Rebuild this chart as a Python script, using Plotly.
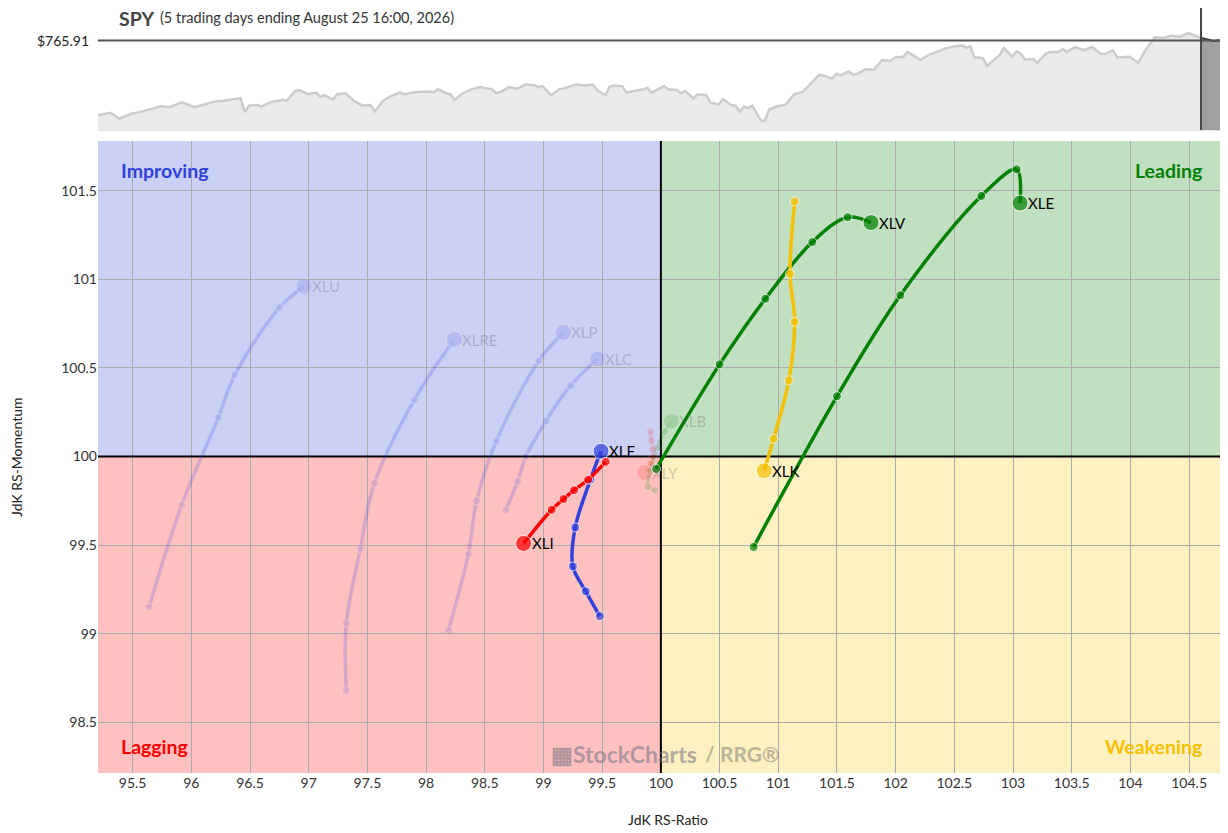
import plotly.graph_objects as go

# ---------------- SPY price strip (day index, price) ----------------
spy_days = [0,3,5,8,10,13,15,17,20,23,25,28,30,33,34,35,36,38,39,41,44,45,47,48,50,52,53,54,56,57,59,61,63,65,66,68,70,72,73,76,79,80,81,83,84,85,87,89,
            91,94,95,96,98,100,102,104,105,106,108,110,111,114,116,118,119,121,122,123,125,126,128,130,131,132,135,136,138,139,140,142,143,145,146,148,149,151,152,153,154,155,156,158,159,160,162,163,164,166,168,170,172,173,175,176,177,179,
            180,181,183,185,187,189,190,192,193,195,196,198,199,201,202,204,206,207,208,209,210,211,212,214,215,216,217,218,219,220,221,223,224,226,227,229,230,231,233,235,237,239,240,242,243,245,246,248,249,250,252,254,256,258,260,261,263]
spy_prices = [673.9,677.1,669.9,675.9,677.9,681.9,685.1,683.9,689.9,683.9,687.1,691.1,691.9,693.9,695.1,677.9,685.9,686.7,684.7,689.9,693.1,691.9,703.9,705.1,699.9,701.9,697.1,698.7,693.1,699.9,701.1,691.9,685.9,686.7,678.7,691.9,697.9,701.9,699.9,702.7,703.1,701.9,705.9,701.1,699.9,693.1,701.1,705.9,
              708.7,705.9,701.1,702.7,708.7,706.7,711.9,711.1,708.7,709.9,698.7,705.9,707.1,711.9,710.7,711.9,705.1,698.7,709.1,710.7,709.9,701.9,703.9,705.9,707.9,701.9,709.9,705.9,705.1,701.1,703.9,694.7,699.9,698.7,689.9,687.1,693.9,686.7,685.9,678.7,684.7,683.1,685.9,667.9,667.1,681.1,685.1,685.9,687.1,699.9,702.7,713.1,723.9,722.7,719.1,725.1,723.1,727.9,
              723.9,724.7,730.7,729.9,741.9,740.7,745.1,745.9,751.9,745.9,741.9,747.9,749.9,753.9,755.9,758.7,759.9,757.1,758.7,744.7,745.1,743.9,734.7,743.9,747.9,756.7,751.1,745.9,752.7,749.9,742.7,743.1,738.7,749.9,751.9,751.9,755.1,751.9,757.9,753.9,757.9,749.9,749.1,753.9,745.1,745.1,745.9,738.7,747.9,755.9,769.9,769.1,771.9,770.7,775.1,772.7,769.1]
last5_days = [263,264,265,266,267,268]
last5_prices = [769.1,767.9,766.7,765.3,766.1,765.91]
last_price = 765.91

# ---------------- RRG tails (RS-Ratio, RS-Momentum), oldest -> newest ----------------
xle_x = [100.79,101.50,102.04,102.73,103.03,103.06]
xle_y = [99.49,100.34,100.91,101.47,101.62,101.43]
xlv_x = [99.96,100.50,100.89,101.29,101.59,101.79]
xlv_y = [99.93,100.52,100.89,101.21,101.35,101.32]
xlk_x = [101.14,101.10,101.14,101.09,100.96,100.88]
xlk_y = [101.44,101.03,100.76,100.43,100.10,99.92]
xlf_x = [99.48,99.36,99.25,99.27,99.40,99.49]
xlf_y = [99.10,99.24,99.38,99.60,99.87,100.03]
xli_x = [99.53,99.38,99.26,99.17,99.07,98.83]
xli_y = [99.97,99.87,99.81,99.76,99.70,99.51]
xlu_x = [95.64,95.92,96.23,96.37,96.75,96.96]
xlu_y = [99.15,99.73,100.22,100.46,100.84,100.96]
xlre_x = [97.32,97.32,97.44,97.56,97.90,98.24]
xlre_y = [98.68,99.06,99.48,99.85,100.32,100.66]
xlp_x = [98.19,98.36,98.43,98.60,98.96,99.17]
xlp_y = [99.02,99.45,99.75,100.09,100.54,100.70]
xlc_x = [98.68,98.78,98.85,99.02,99.23,99.46]
xlc_y = [99.70,99.86,100.00,100.20,100.40,100.55]
xly_x = [99.91,99.92,99.93,99.93,99.91,99.86]
xly_y = [100.14,100.09,100.04,100.00,99.96,99.91]
xlb_x = [99.95,99.89,99.91,99.97,100.03,100.09]
xlb_y = [99.81,99.83,99.92,100.05,100.14,100.20]

x_ticks = [95.5,96,96.5,97,97.5,98,98.5,99,99.5,100,100.5,101,101.5,102,102.5,103,103.5,104,104.5]
y_ticks = [98.5,99,99.5,100,100.5,101,101.5]

GREEN = "rgb(0,128,0)"
GOLD = "rgb(245,192,0)"
BLUE = "rgb(50,65,220)"
RED = "rgb(255,0,0)"
FONT = "Lato"

# the page body has an 8px margin, so the figure is offset by 8px
OFF = 8
W, H = 1220, 825
def px(xp):
    return (xp - OFF) / W
def py(yp):
    return 1 - (yp - OFF) / H

XR = [95.205, 104.78]
YR = [98.215, 101.78]

fig = go.Figure()

# SPY strip
fig.add_trace(go.Scatter(x=spy_days, y=spy_prices, xaxis="x2", yaxis="y2", mode="lines",
                         line=dict(color="rgb(204,204,204)", width=2.5), fill="tozeroy",
                         fillcolor="rgb(235,235,235)", hoverinfo="skip", showlegend=False))
fig.add_trace(go.Scatter(x=last5_days, y=last5_prices, xaxis="x2", yaxis="y2", mode="lines",
                         line=dict(color="rgb(50,50,50)", width=2), fill="tozeroy",
                         fillcolor="rgb(160,160,160)", hoverinfo="skip", showlegend=False))

faded = [("XLU", xlu_x, xlu_y, BLUE), ("XLRE", xlre_x, xlre_y, BLUE), ("XLP", xlp_x, xlp_y, BLUE),
         ("XLC", xlc_x, xlc_y, BLUE), ("XLB", xlb_x, xlb_y, GREEN), ("XLY", xly_x, xly_y, RED)]
solid = [("XLE", xle_x, xle_y, GREEN), ("XLV", xlv_x, xlv_y, GREEN), ("XLK", xlk_x, xlk_y, GOLD),
         ("XLF", xlf_x, xlf_y, BLUE), ("XLI", xli_x, xli_y, RED)]

annotations = []
for name, xs, ys, col in faded:
    fig.add_trace(go.Scatter(x=xs, y=ys, mode="lines+markers", opacity=0.2,
                             line=dict(color=col, width=3.5, shape="spline"),
                             marker=dict(color=col, size=[8]*(len(xs)-1)+[16]),
                             hoverinfo="skip", showlegend=False))
    annotations.append(dict(x=xs[-1], y=ys[-1], xref="x", yref="y", text=name, showarrow=False,
                            xanchor="left", yanchor="middle", xshift=6,
                            font=dict(family=FONT, size=15, color="rgba(60,60,70,0.25)")))
for name, xs, ys, col in solid:
    fig.add_trace(go.Scatter(x=xs, y=ys, mode="lines+markers",
                             line=dict(color=col, width=3.5, shape="spline"),
                             marker=dict(color=col, size=[9]*(len(xs)-1)+[16]),
                             hoverinfo="skip", showlegend=False))
    annotations.append(dict(x=xs[-1], y=ys[-1], xref="x", yref="y", text=name, showarrow=False,
                            xanchor="left", yanchor="middle", xshift=6,
                            font=dict(family=FONT, size=15, color="black")))

shapes = [
    dict(type="rect", xref="x", yref="y", x0=XR[0], x1=100, y0=100, y1=YR[1], fillcolor="rgb(203,208,245)", line_width=0, layer="below"),
    dict(type="rect", xref="x", yref="y", x0=100, x1=XR[1], y0=100, y1=YR[1], fillcolor="rgb(193,224,193)", line_width=0, layer="below"),
    dict(type="rect", xref="x", yref="y", x0=XR[0], x1=100, y0=YR[0], y1=100, fillcolor="rgb(255,192,192)", line_width=0, layer="below"),
    dict(type="rect", xref="x", yref="y", x0=100, x1=XR[1], y0=YR[0], y1=100, fillcolor="rgb(253,240,193)", line_width=0, layer="below"),
    dict(type="line", xref="x", yref="y", x0=100, x1=100, y0=YR[0], y1=YR[1], line=dict(color="black", width=2), layer="between"),
    dict(type="line", xref="x", yref="y", x0=XR[0], x1=XR[1], y0=100, y1=100, line=dict(color="black", width=2), layer="between"),
    # SPY strip decorations
    dict(type="line", xref="x2 domain", yref="y2", x0=0, x1=1, y0=last_price, y1=last_price, line=dict(color="rgb(85,85,85)", width=2), layer="above"),
    dict(type="line", xref="x2", yref="y2 domain", x0=last5_days[0], x1=last5_days[0], y0=0, y1=1, line=dict(color="rgb(70,70,70)", width=2), layer="above"),
    dict(type="line", xref="paper", yref="paper", x0=px(98), x1=px(1223), y0=py(130.5), y1=py(130.5), line=dict(color="rgb(225,225,225)", width=1)),
    dict(type="line", xref="paper", yref="paper", x0=px(1222.5), x1=px(1222.5), y0=py(130.5), y1=py(5), line=dict(color="rgb(225,225,225)", width=1)),
]

annotations += [
    dict(x=px(117), y=py(18.5), xref="paper", yref="paper", xanchor="left", yanchor="middle", showarrow=False,
         text="<b>SPY</b>", font=dict(family=FONT, size=19.5, color="#444")),
    dict(x=px(158), y=py(18), xref="paper", yref="paper", xanchor="left", yanchor="middle", showarrow=False,
         text="(5 trading days ending August 25 16:00, 2026)", font=dict(family=FONT, size=14.5, color="#333")),
    dict(x=px(91), y=last_price, xref="paper", yref="y2", xanchor="right", yanchor="middle", showarrow=False,
         text="$765.91", font=dict(family=FONT, size=14, color="#222")),
    dict(x=px(119), y=py(171), xref="paper", yref="paper", xanchor="left", yanchor="middle", showarrow=False,
         text="<b>Improving</b>", font=dict(family=FONT, size=19.5, color=BLUE)),
    dict(x=px(1204), y=py(171), xref="paper", yref="paper", xanchor="right", yanchor="middle", showarrow=False,
         text="<b>Leading</b>", font=dict(family=FONT, size=19.5, color=GREEN)),
    dict(x=px(119), y=py(746), xref="paper", yref="paper", xanchor="left", yanchor="middle", showarrow=False,
         text="<b>Lagging</b>", font=dict(family=FONT, size=19.5, color=RED)),
    dict(x=px(1204), y=py(746), xref="paper", yref="paper", xanchor="right", yanchor="middle", showarrow=False,
         text="<b>Weakening</b>", font=dict(family=FONT, size=19.5, color=GOLD)),
    dict(x=px(549), y=py(754), xref="paper", yref="paper", xanchor="left", yanchor="middle", showarrow=False,
         text="<b>▦StockCharts</b>", font=dict(family=FONT, size=23, color="rgba(110,110,125,0.55)")),
    dict(x=px(703), y=py(753), xref="paper", yref="paper", xanchor="left", yanchor="middle", showarrow=False,
         text="<b>/ RRG®</b>", font=dict(family=FONT, size=21, color="rgba(120,120,110,0.5)")),
    dict(x=px(668), y=py(819), xref="paper", yref="paper", xanchor="center", yanchor="middle", showarrow=False,
         text="JdK RS-Ratio", font=dict(family=FONT, size=14, color="#222")),
    dict(x=px(17), y=py(457), xref="paper", yref="paper", xanchor="center", yanchor="middle", showarrow=False,
         text="JdK RS-Momentum", textangle=-90, font=dict(family=FONT, size=14, color="#222")),
]

fig.update_layout(
    width=W, height=H, margin=dict(l=0, r=0, t=0, b=0),
    paper_bgcolor="white", plot_bgcolor="rgba(0,0,0,0)",
    font=dict(family=FONT, color="#333"),
    xaxis=dict(domain=[px(98), min(1.0, px(1222))], range=XR, tickvals=x_ticks, ticktext=[f"{v:g}" for v in x_ticks],
               showgrid=True, gridcolor="rgb(170,170,170)", gridwidth=1, zeroline=False, showline=False,
               ticks="", tickfont=dict(family=FONT, size=14, color="#333"), anchor="y", fixedrange=True),
    yaxis=dict(domain=[py(773), py(141)], range=YR, tickvals=y_ticks, ticktext=[f"{v:g}" for v in y_ticks],
               showgrid=True, gridcolor="rgb(170,170,170)", gridwidth=1, zeroline=False, showline=False,
               ticks="", tickfont=dict(family=FONT, size=14, color="#333"), anchor="x", fixedrange=True),
    xaxis2=dict(domain=[px(98), min(1.0, px(1222))], range=[0, 268], showgrid=False, zeroline=False, showticklabels=False,
                ticks="", anchor="y2", fixedrange=True),
    yaxis2=dict(domain=[py(130), min(1.0, py(5))], range=[655.9, 805.9], showgrid=False, zeroline=False, showticklabels=False,
                ticks="", anchor="x2", fixedrange=True),
    shapes=shapes, annotations=annotations, showlegend=False,
)

fig.write_html("out.html")
